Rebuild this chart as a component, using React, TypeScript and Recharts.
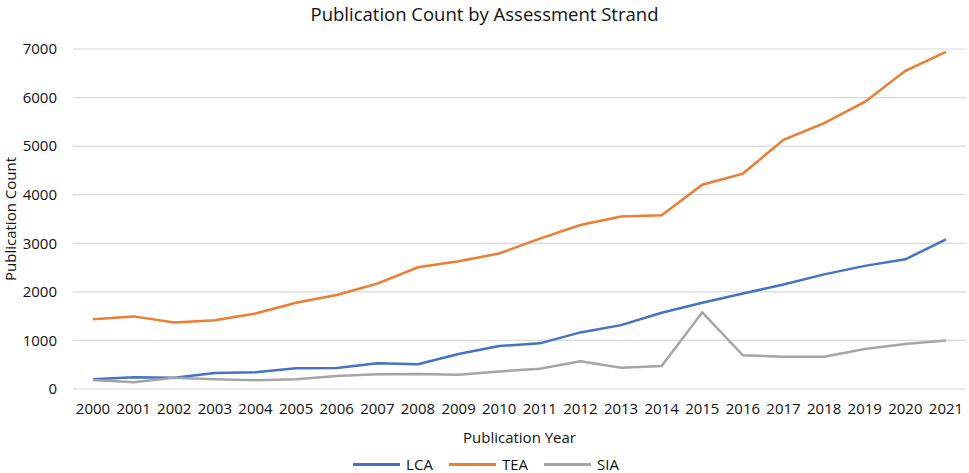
import React from 'react'
import { LineChart, Line, XAxis, YAxis, CartesianGrid, Legend } from 'recharts'

const years = ['2000', '2001', '2002', '2003', '2004', '2005', '2006', '2007', '2008', '2009', '2010',
  '2011', '2012', '2013', '2014', '2015', '2016', '2017', '2018', '2019', '2020', '2021']
const lca = [200, 240, 230, 330, 345, 425, 430, 528, 510, 720, 885, 940, 1165, 1315, 1570, 1775, 1965, 2150, 2360, 2535, 2670, 3080]
const tea = [1435, 1495, 1370, 1415, 1555, 1775, 1935, 2170, 2505, 2630, 2790, 3095, 3375, 3550, 3575, 4205, 4435, 5130, 5475, 5910, 6550, 6940]
const sia = [185, 140, 230, 200, 180, 200, 268, 302, 310, 295, 362, 418, 570, 440, 475, 1578, 695, 665, 665, 825, 925, 1000]
const yTicks = [0, 1000, 2000, 3000, 4000, 5000, 6000, 7000]
const seriesNames = ['LCA', 'TEA', 'SIA']
const seriesColors = ['#4472C4', '#ED7D31', '#A5A5A5']

const data = years.map((y, i) => ({ year: y, LCA: lca[i], TEA: tea[i], SIA: sia[i] }))

const FONT = '"Open Sans", sans-serif'
const TEXT = '#111'

// keep Excel's legend order instead of recharts' alphabetical sort
function LegendBox() {
  return (
    <div style={{ display: 'flex', justifyContent: 'center', alignItems: 'center', height: 18, lineHeight: '18px', fontFamily: FONT, fontSize: 15, color: TEXT, paddingLeft: 22 }}>
      {seriesNames.map((name, i) => (
        <div key={name} style={{ display: 'flex', alignItems: 'center', height: 18, marginRight: 16 }}>
          <div style={{ width: 47, height: 3, background: seriesColors[i], marginRight: 6 }} />
          <span>{name}</span>
        </div>
      ))}
    </div>
  )
}

export default function App() {
  return (
    <div style={{ position: 'absolute', left: 0, top: 0, width: 969, height: 473, background: '#fff' }}>
      <div style={{
        position: 'absolute', left: 0, top: 1, width: 969, textAlign: 'center',
        fontFamily: FONT, fontSize: 18.5, color: TEXT,
      }}>
        Publication Count by Assessment Strand
      </div>
      <LineChart width={969} height={473} data={data} margin={{ top: 49, right: 3, left: 0, bottom: 0 }}>
        <CartesianGrid vertical={false} stroke="#d9d9d9" strokeWidth={1.2} />
        <XAxis
          dataKey="year"
          interval={0}
          padding={{ left: 20, right: 20 }}
          axisLine={false}
          tickLine={false}
          tickSize={0}
          tickMargin={14}
          height={66}
          tick={{ fontFamily: FONT, fontSize: 15, fill: TEXT }}
          label={{ value: 'Publication Year', position: 'insideBottom', offset: 12, style: { fontFamily: FONT, fontSize: 15, fill: TEXT } }}
        />
        <YAxis
          domain={[0, 7000]}
          ticks={yTicks}
          axisLine={false}
          tickLine={false}
          tickSize={0}
          tickMargin={16}
          width={73}
          tick={{ fontFamily: FONT, fontSize: 15, fill: TEXT }}
          label={{ value: 'Publication Count', angle: -90, position: 'insideLeft', offset: 11, style: { textAnchor: 'middle', fontFamily: FONT, fontSize: 15, fill: TEXT } }}
        />
        <Legend verticalAlign="bottom" content={<LegendBox />} />
        {seriesNames.map((name, i) => (
          <Line key={name} dataKey={name} stroke={seriesColors[i]} strokeWidth={2.5} dot={false} isAnimationActive={false} />
        ))}
      </LineChart>
    </div>
  )
}
